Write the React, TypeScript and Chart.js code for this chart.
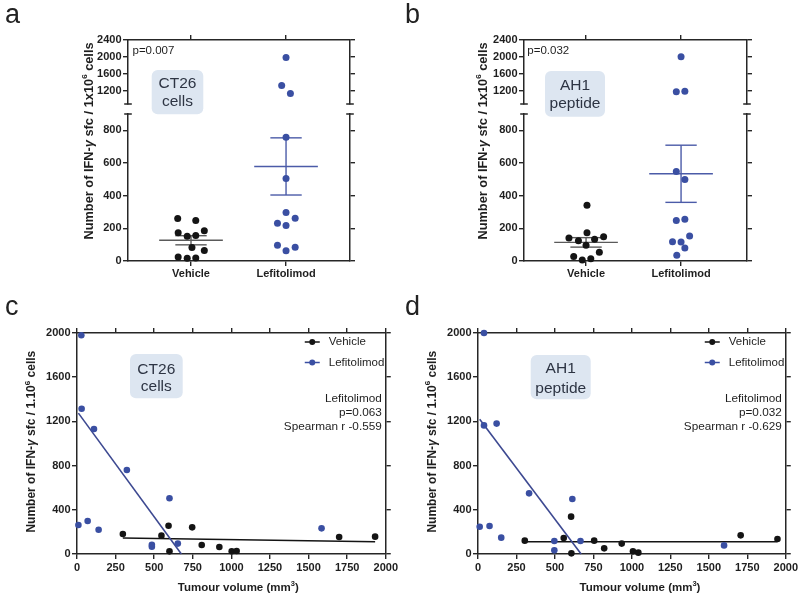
import React, { useEffect, useRef } from 'react';
import { Chart, registerables } from 'chart.js';
Chart.register(...registerables);

// ---------- data ----------
const CATEGORIES = ['Vehicle', 'Lefitolimod'];
const UPPER_TICKS = [1200, 1600, 2000, 2400];
const LOWER_TICKS = [0, 200, 400, 600, 800];
const CAT_TICKS = [1, 2];
const SCATTER_Y_TICKS = [0, 400, 800, 1200, 1600, 2000];
const SCATTER_X_TICKS = [0, 250, 500, 750, 1000, 1250, 1500, 1750, 2000];

// panel a (CT26 cells)
const A_VEH = [260, 248, 173, 152, 156, 185, 83, 65, 25, 17, 19];
const A_VEH_JIT = [-0.14, 0.05, -0.135, -0.04, 0.05, 0.14, 0.01, 0.14, -0.135, -0.04, 0.05];
const A_LEFI = [1984, 1318, 1130, 757, 505, 297, 231, 262, 217, 96, 63, 84];
const A_LEFI_JIT = [0, -0.046, 0.046, 0, 0, 0, -0.09, 0.096, 0, -0.09, 0, 0.096];
const A_MEAN = [127, 579];
const A_SEM = [28, 175];

// panel b (AH1 peptide)
const B_VEH = [341, 141, 124, 173, 133, 149, 96, 27, 6, 14, 53];
const B_VEH_JIT = [0.01, -0.18, -0.08, 0.01, 0.09, 0.185, 0, -0.13, -0.04, 0.05, 0.14];
const B_LEFI = [2000, 1169, 1184, 548, 499, 248, 255, 118, 116, 153, 79, 35];
const B_LEFI_JIT = [0, -0.05, 0.04, -0.05, 0.04, -0.05, 0.04, -0.09, 0, 0.09, 0.04, -0.045];
const B_MEAN = [114, 534];
const B_SEM = [29, 175];

// panel c (CT26 cells vs tumour volume)
const C_VEH_X = [297, 547, 593, 599, 746, 808, 922, 1002, 1034, 1698, 1931];
const C_VEH_Y = [181, 166, 256, 24, 241, 81, 63, 24, 27, 154, 157];
const C_LEFI_X = [28, 30, 110, 323, 9, 69, 140, 485, 485, 599, 653, 1584];
const C_LEFI_Y = [1979, 1315, 1131, 760, 262, 299, 220, 84, 66, 504, 94, 232];
const C_VEH_FIT_X = [297, 1931];
const C_VEH_FIT_Y = [145, 110];
const C_LEFI_FIT_X = [9, 676];
const C_LEFI_FIT_Y = [1275, 0];
const C_STATS = ['Lefitolimod', 'p=0.063', 'Spearman r -0.559'];

// panel d (AH1 peptide vs tumour volume)
const D_VEH_X = [304, 557, 605, 607, 755, 820, 934, 1007, 1042, 1707, 1946];
const D_VEH_Y = [121, 145, 338, 6, 121, 51, 94, 24, 12, 169, 136];
const D_LEFI_X = [39, 39, 121, 332, 613, 11, 75, 151, 496, 496, 666, 1599];
const D_LEFI_Y = [2000, 1164, 1180, 549, 498, 247, 253, 148, 118, 33, 118, 78];
const D_VEH_FIT_X = [304, 1946];
const D_VEH_FIT_Y = [110, 111];
const D_LEFI_FIT_X = [11, 670];
const D_LEFI_FIT_Y = [1220, 0];
const D_STATS = ['Lefitolimod', 'p=0.032', 'Spearman r -0.629'];

const A_P = 'p=0.007';
const B_P = 'p=0.032';
const CT26_LABEL = ['CT26', 'cells'];
const AH1_LABEL = ['AH1', 'peptide'];

// ---------- style ----------
const FONT = "'Liberation Sans', Arial, Helvetica, sans-serif";
const AXIS_COLOR = '#262626';
const TEXT_COLOR = '#1e1e1e';
const BLUE = '#3a4fa2';
const BLUE_LINE = '#4b5ba8';
const BLUE_FIT = '#3d4991';
const BLACK = '#141414';
const GREY_LINE = '#5a5a5a';
const BOX_FILL = '#dde6f1';
const BOX_TEXT = '#2d3443';
const LOWER_MAX = 900;
const UPPER_MIN = 880;
const MEAN_HW = 0.335;
const SEM_HW = 0.165;

type Pt = { x: number; y: number };
const pts = (xs: number[], ys: number[]): Pt[] => xs.map((x, i) => ({ x, y: ys[i] }));

function axis(position: string, min: number, max: number, ticks: number[], size: number, showLabels: boolean, callback?: (v: any) => string, pad = 1.5) {
  const horizontal = position === 'top' || position === 'bottom';
  return {
    type: 'linear',
    position,
    min,
    max,
    bounds: 'data',
    afterBuildTicks: (a: any) => { a.ticks = ticks.map((v) => ({ value: v })); },
    afterFit: (a: any) => { if (horizontal) a.height = size; else a.width = size; },
    grid: { display: true, drawOnChartArea: false, drawTicks: true, tickLength: 5, lineWidth: 1.4, color: AXIS_COLOR },
    border: { display: true, color: AXIS_COLOR, width: 1.5 },
    ticks: {
      display: showLabels,
      color: TEXT_COLOR,
      font: { family: FONT, size: 11, weight: 'bold' },
      padding: pad,
      maxRotation: 0,
      minRotation: 0,
      autoSkip: false,
      callback: callback || ((v: any) => String(v)),
    },
  };
}

type Part = { t: string; f: string; dy?: number };
function richText(ctx: CanvasRenderingContext2D, parts: Part[], x: number, y: number, rotate: boolean) {
  ctx.save();
  ctx.translate(x, y);
  if (rotate) ctx.rotate(-Math.PI / 2);
  let total = 0;
  for (const p of parts) { ctx.font = p.f; total += ctx.measureText(p.t).width; }
  let cx = -total / 2;
  ctx.textBaseline = 'middle';
  ctx.textAlign = 'left';
  ctx.fillStyle = TEXT_COLOR;
  for (const p of parts) {
    ctx.font = p.f;
    ctx.fillText(p.t, cx, p.dy || 0);
    cx += ctx.measureText(p.t).width;
  }
  ctx.restore();
}

function yTitleParts(size: number, mid: string): Part[] {
  const b = `bold ${size}px ${FONT}`;
  return [
    { t: 'Number of IFN-', f: b },
    { t: 'γ', f: `italic bold ${size}px ${FONT}` },
    { t: ` sfc / ${mid}`, f: b },
    { t: '6', f: `bold ${Math.round(size * 0.65)}px ${FONT}`, dy: -size * 0.35 },
    { t: ' cells', f: b },
  ];
}

function drawBox(ctx: CanvasRenderingContext2D, box: { x: number; y: number; w: number; h: number; cx: number; ly: number[] }, lines: string[]) {
  ctx.save();
  ctx.fillStyle = BOX_FILL;
  ctx.beginPath();
  (ctx as any).roundRect(box.x, box.y, box.w, box.h, 6);
  ctx.fill();
  ctx.fillStyle = BOX_TEXT;
  ctx.font = `15.5px ${FONT}`;
  ctx.textAlign = 'center';
  ctx.textBaseline = 'middle';
  lines.forEach((l, i) => ctx.fillText(l, box.cx, box.ly[i]));
  ctx.restore();
}

function breakMarks(ctx: CanvasRenderingContext2D, area: any, yPix: number) {
  ctx.save();
  ctx.strokeStyle = AXIS_COLOR;
  ctx.lineWidth = 1.5;
  for (const x of [area.left, area.right]) {
    ctx.beginPath();
    ctx.moveTo(x - 3.8, yPix);
    ctx.lineTo(x + 3.8, yPix);
    ctx.stroke();
  }
  ctx.restore();
}

const baseOptions = (layoutPad: any, scales: any) => ({
  responsive: false,
  maintainAspectRatio: false,
  animation: false,
  events: [],
  layout: { padding: layoutPad, autoPadding: false },
  plugins: { legend: { display: false }, tooltip: { enabled: false } },
  scales,
});

const dotDs = (data: Pt[], color: string, r: number) => ({
  data,
  pointRadius: r,
  pointBackgroundColor: color,
  pointBorderWidth: 0,
  borderColor: color,
  showLine: false,
  clip: false,
  order: 1,
});
const lineDs = (data: Pt[], color: string, w: number) => ({
  data,
  pointRadius: 0,
  borderColor: color,
  borderWidth: w,
  showLine: true,
  clip: false,
  order: 3,
});

type DotPanel = {
  veh: number[]; vehJit: number[]; lefi: number[]; lefiJit: number[]; mean: number[]; sem: number[];
  xRange: number[]; leftSize: number; rightSize: number; pText: string; pPos: number[];
  yTitle: number[]; titleSize: number; box: any; boxLines: string[];
};

function dotPlotConfigs(p: DotPanel) {
  const vehPts = p.veh.map((y, i) => ({ x: CAT_TICKS[0] + p.vehJit[i], y }));
  const lefiPts = p.lefi.map((y, i) => ({ x: CAT_TICKS[1] + p.lefiJit[i], y }));
  const segs = (cat: number, m: number, s: number): Pt[][] => [
    [{ x: cat - MEAN_HW, y: m }, { x: cat + MEAN_HW, y: m }],
    [{ x: cat - SEM_HW, y: m + s }, { x: cat + SEM_HW, y: m + s }],
    [{ x: cat - SEM_HW, y: m - s }, { x: cat + SEM_HW, y: m - s }],
    [{ x: cat, y: m - s }, { x: cat, y: m + s }],
  ];
  const lineSets = [
    ...segs(CAT_TICKS[0], p.mean[0], p.sem[0]).map((d) => lineDs(d, GREY_LINE, 1.4)),
    ...segs(CAT_TICKS[1], p.mean[1], p.sem[1]).map((d) => lineDs(d, BLUE_LINE, 1.4)),
  ];
  const catLabel = (v: any) => CATEGORIES[Math.round(v) - 1] || '';
  const upper = () => ({
    type: 'scatter',
    data: {
      datasets: [
        dotDs(vehPts.filter((q) => q.y > LOWER_MAX), BLACK, 3.5),
        dotDs(lefiPts.filter((q) => q.y > LOWER_MAX), BLUE, 3.5),
      ],
    },
    options: baseOptions({ left: 0, right: 0, top: 0, bottom: 186 }, {
      x: axis('top', p.xRange[0], p.xRange[1], CAT_TICKS, 40, false),
      y: axis('left', UPPER_MIN, 2400, UPPER_TICKS, p.leftSize, true),
      yRight: axis('right', UPPER_MIN, 2400, UPPER_TICKS, p.rightSize, false),
    }),
    plugins: [{
      id: 'overlayUpper',
      afterDraw(chart: any) { breakMarks(chart.ctx, chart.chartArea, chart.chartArea.bottom); },
    }],
  });
  const lower = () => ({
    type: 'scatter',
    data: {
      datasets: [
        ...lineSets,
        dotDs(vehPts.filter((q) => q.y <= LOWER_MAX), BLACK, 3.5),
        dotDs(lefiPts.filter((q) => q.y <= LOWER_MAX), BLUE, 3.5),
      ],
    },
    options: baseOptions({ left: 0, right: 0, top: 114, bottom: 0 }, {
      x: axis('bottom', p.xRange[0], p.xRange[1], CAT_TICKS, 29, true, catLabel, 1),
      y: axis('left', 0, LOWER_MAX, LOWER_TICKS, p.leftSize, true),
      yRight: axis('right', 0, LOWER_MAX, LOWER_TICKS, p.rightSize, false),
    }),
    plugins: [{
      id: 'overlayLower',
      afterDraw(chart: any) {
        const ctx = chart.ctx as CanvasRenderingContext2D;
        breakMarks(ctx, chart.chartArea, chart.chartArea.top);
        richText(ctx, yTitleParts(p.titleSize, '1x10'), p.yTitle[0], p.yTitle[1], true);
        ctx.save();
        ctx.fillStyle = TEXT_COLOR;
        ctx.font = `11.5px ${FONT}`;
        ctx.textAlign = 'left';
        ctx.textBaseline = 'middle';
        ctx.fillText(p.pText, p.pPos[0], p.pPos[1]);
        ctx.restore();
        drawBox(ctx, p.box, p.boxLines);
      },
    }],
  });
  return [upper, lower];
}

type ScPanel = {
  vx: number[]; vy: number[]; lx: number[]; ly: number[]; vfx: number[]; vfy: number[]; lfx: number[]; lfy: number[];
  leftSize: number; stats: string[]; yTitle: number[]; xTitle: number[]; box: any; boxLines: string[];
};

function scatterConfig(p: ScPanel) {
  return () => ({
    type: 'scatter',
    data: {
      datasets: [
        lineDs(pts(p.lfx, p.lfy), BLUE_FIT, 1.6),
        lineDs(pts(p.vfx, p.vfy), BLACK, 1.5),
        dotDs(pts(p.vx, p.vy), BLACK, 3.3),
        dotDs(pts(p.lx, p.ly), BLUE, 3.3),
      ],
    },
    options: baseOptions({ left: 0, right: 0, top: 0, bottom: 0 }, {
      x: axis('bottom', 0, 2000, SCATTER_X_TICKS, 41, true, undefined, 2),
      xTop: axis('top', 0, 2000, SCATTER_X_TICKS, 43, false),
      y: axis('left', 0, 2000, SCATTER_Y_TICKS, p.leftSize, true),
      yRight: axis('right', 0, 2000, SCATTER_Y_TICKS, 13, false),
    }),
    plugins: [{
      id: 'overlayScatter',
      afterDraw(chart: any) {
        const ctx = chart.ctx as CanvasRenderingContext2D;
        const a = chart.chartArea;
        richText(ctx, yTitleParts(12, '1.10'), p.yTitle[0], p.yTitle[1], true);
        const b = `bold 11.5px ${FONT}`;
        richText(ctx, [
          { t: 'Tumour volume (mm', f: b },
          { t: '3', f: `bold 7.5px ${FONT}`, dy: -4 },
          { t: ')', f: b },
        ], p.xTitle[0], p.xTitle[1], false);
        // legend
        const rows = [{ label: CATEGORIES[0], color: BLACK }, { label: CATEGORIES[1], color: BLUE }];
        ctx.save();
        rows.forEach((r, i) => {
          const y = a.top + 9 + i * 20.5;
          ctx.strokeStyle = r.color;
          ctx.lineWidth = 1.5;
          ctx.beginPath();
          ctx.moveTo(a.right - 81, y);
          ctx.lineTo(a.right - 66, y);
          ctx.stroke();
          ctx.fillStyle = r.color;
          ctx.beginPath();
          ctx.arc(a.right - 73.5, y, 3, 0, Math.PI * 2);
          ctx.fill();
          ctx.fillStyle = TEXT_COLOR;
          ctx.font = `11.5px ${FONT}`;
          ctx.textAlign = 'left';
          ctx.textBaseline = 'middle';
          ctx.fillText(r.label, a.right - 57, y);
        });
        ctx.font = `11.75px ${FONT}`;
        ctx.textAlign = 'right';
        p.stats.forEach((s, i) => ctx.fillText(s, a.right - 4, a.top + 66 + i * 13.8));
        ctx.restore();
        drawBox(ctx, p.box, p.boxLines);
      },
    }],
  });
}

const [A_UP, A_LOW] = dotPlotConfigs({
  veh: A_VEH, vehJit: A_VEH_JIT, lefi: A_LEFI, lefiJit: A_LEFI_JIT, mean: A_MEAN, sem: A_SEM,
  xRange: [0.337, 2.673], leftSize: 128, rightSize: 50, pText: A_P, pPos: [132.5, 50.7],
  yTitle: [89, 141], titleSize: 12.8, box: { x: 151.7, y: 70, w: 51.6, h: 44.3, cx: 177.5, ly: [83.3, 101.7] }, boxLines: CT26_LABEL,
});
const [B_UP, B_LOW] = dotPlotConfigs({
  veh: B_VEH, vehJit: B_VEH_JIT, lefi: B_LEFI, lefiJit: B_LEFI_JIT, mean: B_MEAN, sem: B_SEM,
  xRange: [0.347, 2.694], leftSize: 124, rightSize: 53, pText: B_P, pPos: [127.3, 50.7],
  yTitle: [83.3, 141], titleSize: 12.8, box: { x: 145, y: 71, w: 60, h: 45.7, cx: 175, ly: [86, 104] }, boxLines: AH1_LABEL,
});
const C_CFG = scatterConfig({
  vx: C_VEH_X, vy: C_VEH_Y, lx: C_LEFI_X, ly: C_LEFI_Y, vfx: C_VEH_FIT_X, vfy: C_VEH_FIT_Y, lfx: C_LEFI_FIT_X, lfy: C_LEFI_FIT_Y,
  leftSize: 77, stats: C_STATS, yTitle: [31.7, 151.7], xTitle: [238.3, 297.7],
  box: { x: 130, y: 64, w: 52.7, h: 44.3, cx: 156.3, ly: [79.3, 96.7] }, boxLines: CT26_LABEL,
});
const D_CFG = scatterConfig({
  vx: D_VEH_X, vy: D_VEH_Y, lx: D_LEFI_X, ly: D_LEFI_Y, vfx: D_VEH_FIT_X, vfy: D_VEH_FIT_Y, lfx: D_LEFI_FIT_X, lfy: D_LEFI_FIT_Y,
  leftSize: 78, stats: D_STATS, yTitle: [32.3, 151.7], xTitle: [240, 297.7],
  box: { x: 130.7, y: 65, w: 60, h: 44.3, cx: 160.7, ly: [79, 98.3] }, boxLines: AH1_LABEL,
});

function ChartCanvas({ left, top, width, height, make }: { left: number; top: number; width: number; height: number; make: () => any }) {
  const ref = useRef<HTMLCanvasElement>(null);
  useEffect(() => {
    const chart = new Chart(ref.current as HTMLCanvasElement, make());
    return () => chart.destroy();
  }, [make]);
  return <canvas ref={ref} width={width} height={height} style={{ position: 'absolute', left, top, width, height }} />;
}

const letterStyle = (left: number, top: number): React.CSSProperties => ({
  position: 'absolute', left, top, font: `27px ${FONT}`, lineHeight: '27px', color: '#222',
});

export default function App() {
  return (
    <div style={{ position: 'absolute', left: 0, top: 0, width: 800, height: 595, background: '#fff', overflow: 'hidden' }}>
      <ChartCanvas left={0} top={0} width={400} height={290} make={A_UP} />
      <ChartCanvas left={0} top={0} width={400} height={290} make={A_LOW} />
      <ChartCanvas left={400} top={0} width={400} height={290} make={B_UP} />
      <ChartCanvas left={400} top={0} width={400} height={290} make={B_LOW} />
      <ChartCanvas left={0} top={290} width={400} height={305} make={C_CFG} />
      <ChartCanvas left={400} top={290} width={400} height={305} make={D_CFG} />
      <div style={letterStyle(5, 0.5)}>a</div>
      <div style={letterStyle(405, 0.5)}>b</div>
      <div style={letterStyle(5, 293)}>c</div>
      <div style={letterStyle(405, 293)}>d</div>
    </div>
  );
}
